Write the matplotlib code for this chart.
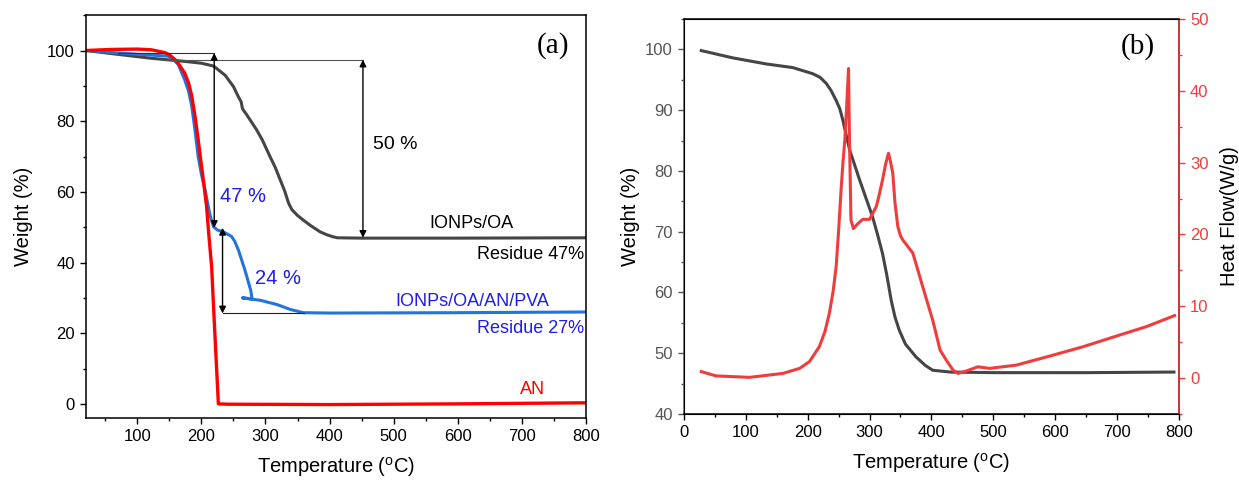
import matplotlib
matplotlib.use("Agg")
import matplotlib.pyplot as plt
from matplotlib.ticker import MultipleLocator

plt.rcParams["font.family"] = ["Liberation Sans", "DejaVu Sans"]
plt.rcParams["mathtext.fontset"] = "custom"
plt.rcParams["mathtext.rm"] = "Liberation Sans"

# ---- panel (a): TGA of the three samples ----
oa_temp = [20, 70, 122, 175, 200, 219, 237, 250, 258, 262, 264, 266, 270, 286,
           295, 307, 315, 323, 330, 336, 341, 350, 359, 370, 385, 395, 405, 412,
           450, 600, 800]
oa_weight = [100, 98.9, 97.8, 96.9, 96.4, 95.6, 93.0, 89.8, 86.8, 85.5, 83.6, 83.0,
             82.0, 77.6, 74.7, 70.0, 67.0, 63.4, 60.2, 56.8, 55.0, 53.3, 52.0, 50.5,
             48.7, 47.9, 47.3, 47.0, 46.9, 46.9, 47.0]

pva_temp = [20, 70, 148, 156, 164, 174, 180, 185, 190, 195, 200, 206, 210, 214,
            219, 225, 234, 247, 252, 258, 268, 277, 279, 264, 280, 292, 318, 339,
            359, 400, 600, 800]
pva_weight = [100, 99.3, 98.4, 97.6, 96.0, 91.7, 88.5, 84.2, 77.5, 70.0, 65.0, 60.4,
              56.5, 53.0, 50.1, 49.2, 48.7, 47.4, 46.0, 43.4, 37.8, 32.1, 29.7, 30.0,
              29.6, 29.3, 28.1, 26.7, 25.8, 25.7, 25.8, 26.0]

an_temp = [20, 60, 100, 122, 143, 150, 159, 166, 174, 180, 185, 190, 195, 199,
           203, 208, 212, 216, 221, 226.5, 240, 400, 600, 800]
an_weight = [100, 100.3, 100.4, 100.2, 99.4, 98.8, 97.4, 95.8, 93.6, 90.8, 87.1,
             81.5, 74.8, 69.0, 63.4, 56.0, 47.0, 38.8, 19.9, 0.0, -0.1, -0.2, 0.0, 0.3]

# ---- panel (b): TGA + heat flow of IONPs/OA ----
b_temp = [28, 79, 133, 176, 208, 220, 230, 238, 246, 252, 257, 262, 268, 284,
          305, 313, 321, 328, 335, 341, 348, 358, 375, 390, 402, 430, 500, 650, 792]
b_weight = [99.8, 98.6, 97.6, 97.0, 96.0, 95.4, 94.4, 93.2, 91.6, 90.2, 88.3, 86.0,
            83.4, 78.5, 72.4, 69.5, 66.4, 62.8, 58.7, 56.0, 53.8, 51.5, 49.4, 48.0,
            47.2, 46.9, 46.8, 46.8, 46.9]

hf_temp = [28, 52, 106, 160, 187, 203, 219, 228, 235, 241, 246, 250, 254, 257,
           260, 263, 266, 267.6, 270, 274, 281, 289, 300, 311, 315, 321, 326,
           330.6, 333, 337.6, 341, 345.7, 350, 354, 370, 386, 402, 414, 424, 435,
           443, 457, 475, 494, 537, 591, 645, 699, 747, 793]
hf_value = [0.9, 0.3, 0.1, 0.65, 1.35, 2.3, 4.4, 6.5, 9.0, 12.0, 15.5, 20.5, 26.2,
            30.0, 33.1, 37.8, 43.1, 33.1, 22.0, 20.8, 21.5, 22.1, 22.1, 23.9, 25.3,
            27.6, 29.8, 31.3, 30.5, 28.5, 24.5, 21.1, 19.8, 19.2, 17.4, 12.7, 8.1,
            3.9, 2.5, 1.1, 0.65, 1.0, 1.57, 1.35, 1.8, 3.06, 4.36, 5.85, 7.15, 8.7]

GRAY = "#454545"
BLUE_LINE = "#2273dc"
BLUE_TEXT = "#1c1cf0"
RED_B = "#f03c3c"
xlabel = r"Temperature ($^{\rm o}$C)"

fig = plt.figure(figsize=(12.39, 4.83), dpi=100)
ax = fig.add_axes([0.0694, 0.1346, 0.4036, 0.834])
axb = fig.add_axes([0.552, 0.1429, 0.3995, 0.8178])


def style_ticks(a):
    a.tick_params(which="both", direction="out", top=False, right=False,
                  labelsize=12)
    a.tick_params(which="major", length=4.5, width=1)
    a.tick_params(which="minor", length=2.5, width=1)
    for s in a.spines.values():
        s.set_linewidth(1.1)


# panel (a)
ax.plot(oa_temp, oa_weight, color=GRAY, lw=2.2)
ax.plot(pva_temp, pva_weight, color=BLUE_LINE, lw=2.2)
ax.plot(an_temp, an_weight, color="red", lw=2.4)

ax.plot([70, 220], [99.3, 99.3], color="#333333", lw=0.8)
ax.plot([140, 452], [97.4, 97.4], color="#555555", lw=0.8)
ax.plot([233, 360], [25.6, 25.6], color="#222222", lw=0.8)
arrow = dict(arrowstyle="<|-|>", color="k", lw=1, mutation_scale=10,
             shrinkA=0, shrinkB=0)
ax.annotate("", xy=(220, 99.3), xytext=(220, 49.8), arrowprops=arrow)
ax.annotate("", xy=(452, 97.4), xytext=(452, 47.0), arrowprops=arrow)
ax.annotate("", xy=(233, 49.8), xytext=(233, 25.6), arrowprops=arrow)

ax.text(468, 73.3, "50 %", fontsize=14, va="center", ha="left")
ax.text(229, 58.7, "47 %", fontsize=14.5, va="center", ha="left", color=BLUE_TEXT)
ax.text(284, 35.5, "24 %", fontsize=14.5, va="center", ha="left", color=BLUE_TEXT)
ax.text(622, 51, "IONPs/OA", fontsize=13, va="center", ha="center")
ax.text(797, 42.3, "Residue 47%", fontsize=13, va="center", ha="right")
ax.text(622, 29.0, "IONPs/OA/AN/PVA", fontsize=13, va="center", ha="center",
        color=BLUE_TEXT)
ax.text(797, 21.3, "Residue 27%", fontsize=13, va="center", ha="right",
        color=BLUE_TEXT)
ax.text(716, 4.1, "AN", fontsize=13, va="center", ha="center", color="red")
ax.text(748, 101.3, "(a)", fontsize=21, va="center", ha="center",
        family="Liberation Serif")

ax.set_xlim(20, 800)
ax.set_ylim(-4, 110)
ax.xaxis.set_major_locator(MultipleLocator(100))
ax.xaxis.set_minor_locator(MultipleLocator(50))
ax.yaxis.set_major_locator(MultipleLocator(20))
ax.yaxis.set_minor_locator(MultipleLocator(10))
style_ticks(ax)
ax.set_xlabel(xlabel, fontsize=14.5, labelpad=8)
ax.set_ylabel("Weight (%)", fontsize=14.5, labelpad=10)

# panel (b)
axb.plot(b_temp, b_weight, color=GRAY, lw=2.2)
axb.set_xlim(0, 800)
axb.set_ylim(40, 105)
axb.xaxis.set_major_locator(MultipleLocator(100))
axb.xaxis.set_minor_locator(MultipleLocator(50))
axb.yaxis.set_major_locator(MultipleLocator(10))
axb.yaxis.set_minor_locator(MultipleLocator(5))
style_ticks(axb)
axb.tick_params(axis="y", which="both", colors="#555555", labelcolor="#555555")
axb.spines["left"].set_color("#555555")
axb.set_xlabel(xlabel, fontsize=14.5, labelpad=8)
axb.set_ylabel("Weight (%)", fontsize=14.5, labelpad=4)
axb.text(733, 100.4, "(b)", fontsize=21, va="center", ha="center",
         family="Liberation Serif")

axr = axb.twinx()
axr.plot(hf_temp, hf_value, color=RED_B, lw=2.2)
axr.set_ylim(-5, 50)
axr.yaxis.set_major_locator(MultipleLocator(10))
axr.yaxis.set_minor_locator(MultipleLocator(5))
axr.tick_params(which="both", direction="out", colors=RED_B, labelsize=12)
axr.tick_params(which="major", length=4.5, width=1)
axr.tick_params(which="minor", length=2.5, width=1)
axr.spines["right"].set_color(RED_B)
axr.spines["right"].set_linewidth(1.1)
axr.set_ylabel("Heat Flow(W/g)", fontsize=14.5, labelpad=8)

fig.savefig("out.png", dpi=100)
